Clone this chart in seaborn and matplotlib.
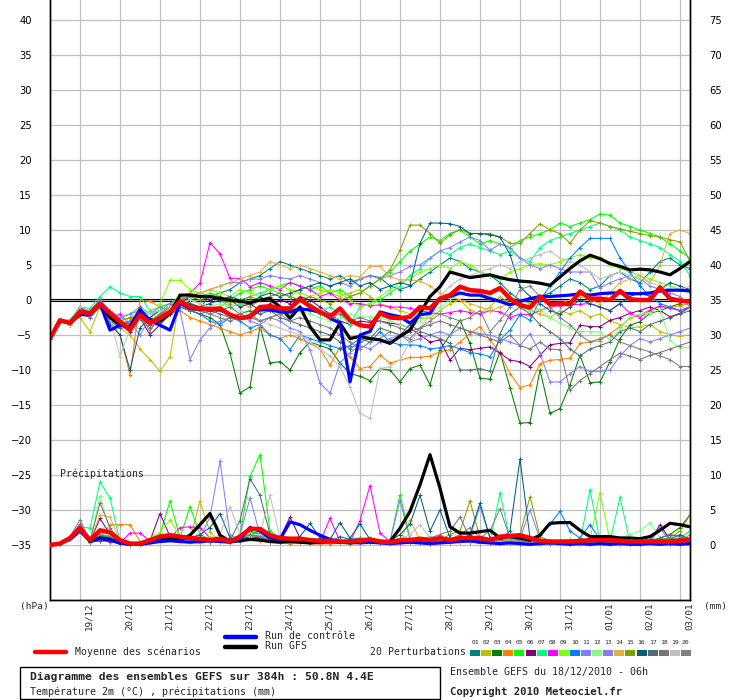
import matplotlib
matplotlib.use("Agg")
import matplotlib.pyplot as plt
from matplotlib.lines import Line2D
from matplotlib.patches import Rectangle
from matplotlib.transforms import ScaledTranslation
import numpy as np
import pandas as pd
import seaborn as sns

# 6-hourly steps from 18/12/2010 06h, 384h -> 65 values per series
date_labels = ["19/12", "20/12", "21/12", "22/12", "23/12", "24/12", "25/12", "26/12",
               "27/12", "28/12", "29/12", "30/12", "31/12", "01/01", "02/01", "03/01"]

member_colors = ["#008080", "#c0c000", "#008000", "#ff8000", "#00ff00", "#800080", "#00ff80",
                 "#ff00ff", "#80ff00", "#0080ff", "#8080ff", "#80ff80", "#8080f0", "#e0b040",
                 "#80a000", "#006080", "#507070", "#807078", "#c0c0c0", "#808080"]

# --- temperature 2m (degC) ---
mean_t = [-5.5, -2.9, -3.3, -1.7, -1.9, -0.5, -1.9, -3.1, -4.3, -2.1, -3.3, -2.6, -1.7,
          -0.2, -1.0, -1.2, -1.3, -1.2, -2.1, -2.6, -2.4, -1.0, -0.9, -1.2, -1.2, 0.1,
          -0.9, -1.7, -2.4, -1.2, -2.9, -3.6, -3.8, -1.9, -2.5, -2.6, -2.4, -1.0, -1.2,
          0.2, 0.7, 1.9, 1.4, 1.3, 1.0, 1.7, 0.2, -0.7, -1.1, 0.5, -0.6, -0.5,
          -0.6, 1.2, 0.2, 0.2, 0.0, 1.3, 0.1, 0.0, 0.0, 1.8, 0.2, -0.1, -0.2]
control_t = [-5.5, -2.9, -3.3, -2.1, -2.1, -0.5, -4.3, -3.6, -3.8, -1.4, -2.9, -3.6, -4.3,
             -0.5, -1.2, -1.3, -1.4, -1.4, -2.1, -2.6, -2.4, -1.4, -1.4, -1.7, -1.7, -1.3,
             -1.4, -1.7, -2.6, -3.3, -11.7, -5.0, -4.5, -1.7, -2.1, -2.4, -3.3, -2.1, -1.9,
             0.2, 0.5, 1.0, 0.7, 0.7, 0.2, -0.2, -0.7, -0.2, 0.2, 0.5, 0.5, 0.6,
             0.7, 0.9, 0.7, 0.9, 1.0, 1.0, 0.9, 0.9, 1.0, 1.3, 1.4, 1.4, 1.3]
gfs_t = [-5.5, -2.9, -3.3, -2.0, -2.0, -0.5, -2.5, -3.5, -4.0, -1.8, -3.0, -3.0, -2.0,
         0.7, 0.7, 0.5, 0.5, 0.2, 0.0, -0.2, -0.4, 0.0, 0.2, -1.0, -2.6, -1.0,
         -3.8, -5.7, -5.7, -3.3, -5.5, -5.2, -5.5, -5.7, -6.2, -5.2, -4.3, -1.9, 0.5,
         1.9, 4.0, 3.6, 3.2, 3.4, 3.6, 3.2, 2.9, 2.7, 2.6, 2.4, 2.1, 3.3,
         4.5, 5.6, 6.4, 5.9, 5.2, 4.8, 4.3, 4.4, 4.3, 4.0, 3.6, 4.5, 5.5]

t01 = [-5.5, -3.0, -3.2, -1.2, -1.8, -0.5, -2.5, -3.5, -4.5, -2.0, -3.5, -2.0, -1.5,
       0.0, -0.5, -1.0, 0.5, 1.0, 1.5, 2.5, 3.0, 3.5, 4.5, 5.5, 5.0, 4.5,
       4.0, 3.5, 3.0, 3.5, 2.5, 3.0, 3.5, 3.2, 2.0, 1.5, 2.0, 3.0, 4.0,
       5.0, 6.0, 5.5, 4.5, 4.0, 3.5, 2.5, 1.0, 0.0, -0.5, 0.5, 1.0, 2.0,
       3.0, 2.5, 1.5, 2.0, 3.5, 4.0, 3.0, 2.5, 4.0, 5.5, 6.0, 5.0, 4.5]
t02 = [-5.5, -3.3, -3.0, -2.5, -4.5, -1.0, -2.5, -4.0, -5.0, -7.0, -8.5, -10.2, -8.1,
       0.5, -0.5, -1.0, -1.5, -1.0, 0.0, -0.5, -1.0, 0.0, 0.5, 1.0, 0.5, 1.5,
       2.0, 1.5, 1.0, 0.5, 1.0, 1.5, 0.5, -0.5, -1.0, -1.5, -2.0, -2.5, -2.6,
       -1.5, -0.5, 0.0, -1.4, -2.0, -1.0, 0.5, -0.5, -1.0, -1.5, -2.0, -2.5, -1.5,
       -2.0, -1.5, -2.4, -2.0, -3.0, -3.5, -4.0, -3.8, -3.5, -4.5, -5.0, -5.2, -5.0]
t03 = [-5.5, -2.8, -3.5, -1.5, -2.0, -0.8, -2.0, -3.0, -3.5, -2.5, -3.0, -2.5, -2.0,
       -1.0, -1.5, -2.0, -2.5, -3.5, -7.6, -13.3, -12.4, -3.8, -9.0, -8.8, -10.0, -7.5,
       -6.0, -6.5, -7.0, -9.0, -10.5, -10.9, -11.5, -9.8, -10.0, -11.7, -9.8, -9.3, -12.1,
       -7.1, -5.0, -2.9, -6.2, -11.2, -11.3, -7.4, -12.5, -17.6, -17.5, -10.0, -16.2, -15.5,
       -12.1, -7.9, -11.8, -11.7, -8.8, -5.5, -3.6, -3.1, -1.9, -1.5, -1.0, -0.5, 0.0]
t04 = [-5.5, -3.0, -3.3, -2.0, -2.2, -0.5, -3.0, -5.0, -10.7, 0.0, -0.2, -1.0, -2.0,
       -1.5, -2.5, -3.0, -3.5, -4.0, -4.5, -5.0, -4.5, -4.0, -5.0, -5.5, -5.0, -5.5,
       -6.2, -7.0, -9.3, -6.7, -8.1, -9.8, -9.5, -7.9, -9.0, -8.6, -8.2, -8.2, -8.0,
       -7.4, -7.1, -6.0, -4.8, -3.8, -5.7, -7.6, -10.5, -12.5, -12.1, -9.1, -8.6, -8.5,
       -8.3, -6.2, -6.0, -5.8, -4.8, -3.8, -2.6, -2.1, -1.4, -1.0, -1.0, -0.8, -0.5]
t05 = [-5.5, -3.0, -3.0, -1.0, -1.5, 0.0, -1.5, -2.5, -2.0, -1.0, -2.0, -1.5, -0.5,
       0.5, 0.0, 0.5, 1.0, 0.5, 0.0, 1.0, 1.5, 2.0, 1.5, 2.0, 2.5, 2.0,
       1.5, 2.0, 1.0, 1.5, 0.5, 1.0, 2.0, 3.0, 4.0, 5.5, 7.0, 8.0, 9.0,
       8.5, 9.5, 10.0, 9.0, 8.0, 8.5, 8.0, 7.5, 8.5, 9.0, 9.5, 10.0, 11.0,
       10.5, 11.0, 11.5, 12.3, 12.1, 11.0, 10.5, 10.0, 9.5, 9.0, 8.0, 7.0, 6.0]
t06 = [-5.5, -3.0, -3.2, -1.8, -2.0, -1.0, -2.0, -3.5, -4.5, -2.5, -5.0, -3.5, -2.0,
       -0.5, 0.5, 0.5, 0.0, 0.5, 0.0, -1.0, -0.5, -1.5, -0.5, 0.0, -0.5, 0.5,
       0.0, -1.0, -2.0, -3.0, -3.5, -3.0, -3.2, -3.0, -3.3, -3.5, -4.0, -5.0, -6.0,
       -5.7, -8.6, -6.9, -7.1, -6.9, -6.7, -7.6, -8.6, -8.8, -9.5, -7.9, -6.4, -6.2,
       -6.1, -3.6, -3.8, -3.8, -2.9, -2.5, -1.9, -1.5, -1.0, -1.5, -2.4, -1.9, -1.0]
t07 = [-5.5, -3.0, -2.8, -1.0, -1.2, 0.5, 1.9, 1.0, 0.5, 0.5, -1.5, -1.0, -0.5,
       0.0, 0.5, 1.0, 0.5, 0.0, -1.0, -0.5, 0.5, 1.0, 1.5, 1.0, 0.5, 0.0,
       -0.5, -1.5, -1.0, -2.0, -3.5, -1.0, -0.5, 0.0, 1.0, 2.0, 3.5, 4.5, 6.0,
       7.0, 6.5, 7.5, 8.0, 7.5, 7.0, 6.5, 7.0, 6.0, 5.5, 7.5, 8.5, 9.0,
       9.5, 10.0, 10.5, 11.0, 10.5, 10.0, 9.0, 8.5, 8.0, 7.5, 6.5, 5.5, 3.5]
t08 = [-5.5, -2.8, -3.0, -1.5, -1.5, -0.5, -2.5, -2.0, -3.5, -1.0, -3.0, -2.0, -1.0,
       0.5, 1.0, 2.4, 8.2, 6.6, 3.1, 3.1, 1.9, 2.5, 2.0, 1.5, 2.5, 2.0,
       1.5, 0.5, 1.0, 0.0, -0.5, -0.5, -0.8, -0.7, -1.0, -1.0, -1.2, -1.5, -1.8,
       -2.0, -1.8, -1.5, -1.8, -2.0, -1.5, -1.7, -2.5, -2.0, -2.1, -1.5, -1.0, -0.8,
       -0.7, -0.6, -0.5, -1.0, -1.5, -0.5, -1.9, -2.5, -1.5, -0.8, -1.2, -1.5, -1.0]
t09 = [-5.5, -3.0, -3.5, -1.5, -2.0, -0.5, -2.0, -3.5, -2.5, -2.0, -3.0, -0.5, 2.8,
       2.8, 1.5, 1.0, 1.5, 1.0, 0.5, 1.5, 1.0, 0.5, 1.5, 2.0, 1.5, 1.0,
       0.5, 1.0, 1.5, 1.0, 0.0, -1.0, -0.5, 0.5, 1.5, 2.5, 3.0, 4.0, 4.5,
       5.0, 4.5, 5.5, 5.0, 4.0, 3.5, 3.0, 4.0, 4.5, 5.0, 5.2, 5.0, 5.5,
       6.0, 6.5, 6.0, 6.1, 5.0, 4.5, 4.0, 3.5, 3.0, 2.5, 2.0, 1.5, 1.0]
t10 = [-5.5, -3.2, -3.3, -2.0, -1.8, -1.0, -3.0, -4.0, -3.0, -2.5, -3.5, -2.5, -2.0,
       -1.0, -1.5, -2.0, -3.0, -3.5, -2.5, -3.0, -4.0, -3.5, -5.0, -5.5, -7.1, -5.0,
       -5.5, -6.0, -6.5, -7.0, -6.5, -5.5, -6.0, -4.5, -6.0, -6.4, -6.4, -6.5, -7.0,
       -6.8, -6.5, -7.0, -7.5, -7.7, -8.1, -5.7, -4.3, -2.1, -2.9, 0.0, 2.0, 4.0,
       6.0, 7.5, 8.8, 8.8, 8.8, 6.0, 4.0, 2.0, 0.5, -0.5, -1.0, -1.5, -1.0]
t11 = [-5.5, -3.0, -3.3, -1.5, -2.5, -1.0, -3.0, -4.0, -3.0, -5.0, -2.5, -3.0, -2.0,
       -1.5, -8.5, -5.7, -4.0, -3.0, -2.5, -2.0, -3.0, -3.5, -2.5, -3.0, -4.0, -4.5,
       -7.1, -11.9, -13.3, -9.0, -7.5, -6.5, -7.0, -6.0, -5.5, -5.0, -6.0, -5.5, -5.0,
       -4.5, -5.0, -4.0, -4.5, -4.8, -5.0, -5.5, -6.0, -6.5, -4.8, -7.6, -11.7, -11.7,
       -10.5, -9.5, -10.2, -10.2, -10.0, -8.0, -6.5, -5.5, -6.0, -5.5, -5.0, -4.5, -4.0]
t12 = [-5.5, -3.0, -3.2, -1.8, -1.5, -0.5, -2.5, -3.0, -2.5, -2.0, -3.0, -2.5, -1.5,
       -0.5, 0.0, -0.5, -1.0, -0.5, -1.0, -1.5, -2.0, -1.5, -1.0, -1.5, -2.0, -1.5,
       -2.0, -2.5, -3.0, -2.5, -2.0, -2.4, -2.4, -2.5, -3.0, -3.5, -4.0, -3.0, -2.0,
       -1.0, 0.0, 1.0, 1.5, 1.0, 0.5, 0.0, -0.5, -1.0, -1.5, -1.4, -2.5, -3.3,
       -4.0, -4.5, -4.5, -4.6, -5.7, -4.0, -2.4, -2.0, -1.8, -1.4, -5.7, -6.9, -6.7]
t13 = [-5.5, -3.0, -3.0, -1.5, -1.5, 0.0, -1.5, -2.5, -2.0, -1.5, -2.0, -1.0, -0.5,
       0.0, 0.5, 1.0, 1.5, 2.0, 2.5, 2.5, 3.0, 3.0, 3.5, 3.2, 3.0, 3.5,
       3.0, 2.5, 2.0, 2.5, 2.0, 3.0, 3.5, 3.0, 3.5, 4.0, 4.8, 5.0, 6.0,
       7.0, 7.5, 8.3, 9.0, 8.5, 7.1, 8.0, 7.5, 6.0, 5.0, 4.5, 5.0, 4.5,
       4.0, 4.0, 4.0, 1.7, 2.5, 3.0, 3.5, 3.0, 2.0, 1.5, 1.0, 0.5, -1.0]
t14 = [-5.5, -3.0, -3.0, -1.5, -2.0, -0.5, -2.0, -3.0, -2.5, -2.0, -2.5, -1.5, -1.0,
       0.5, 1.0, 1.0, 1.5, 2.0, 2.5, 3.0, 3.5, 4.0, 5.5, 5.0, 4.5, 5.0,
       4.5, 4.0, 3.5, 3.0, 3.5, 3.3, 4.8, 4.8, 3.3, 2.9, 2.9, 2.7, 2.0,
       1.0, 0.5, 0.0, -0.5, -1.0, -1.5, -1.0, -0.5, 0.0, -0.5, -1.5, -1.0, -0.5,
       0.0, 0.5, 0.0, -0.5, 1.0, 2.5, 3.0, 3.5, 2.5, 5.0, 9.5, 10.0, 9.5]
t15 = [-5.5, -3.0, -3.3, -1.5, -1.8, -0.5, -2.0, -3.0, -2.5, -2.5, -3.0, -2.0, -1.0,
       0.0, 0.5, 0.0, 0.5, 0.0, -0.5, 0.0, 0.5, 0.0, 0.5, 1.0, 0.5, 0.0,
       0.5, 0.0, -0.5, 0.0, 0.5, 1.0, 2.0, 3.0, 4.3, 7.1, 10.7, 10.7, 9.5,
       8.1, 9.3, 10.1, 9.5, 9.5, 9.5, 9.0, 8.1, 8.1, 9.5, 10.9, 10.0, 9.5,
       8.1, 10.0, 11.3, 11.0, 10.5, 10.2, 9.8, 9.5, 9.2, 9.0, 8.6, 8.3, 5.5]
t16 = [-5.5, -3.0, -3.3, -1.0, -2.0, -1.0, -3.5, -5.0, -10.0, -4.0, -2.5, -1.5, -1.0,
       0.0, -0.5, -1.0, -0.5, 0.0, 0.5, 0.0, -0.5, 0.5, 1.0, 0.5, 1.0, 1.5,
       2.0, 2.5, 2.0, 2.5, 3.0, 2.0, 2.5, 1.5, 2.0, 2.5, 2.1, 8.1, 11.0,
       11.0, 10.9, 10.5, 9.5, 9.5, 9.3, 9.0, 6.5, 1.9, 0.5, -0.5, -1.5, -2.0,
       -1.0, 0.0, -0.5, -1.0, -1.5, -0.5, 0.5, 1.0, 0.5, 1.5, 2.5, 2.0, 1.5]
t17 = [-5.5, -3.0, -3.3, -1.5, -2.0, -1.0, -2.5, -4.0, -3.0, -2.0, -3.5, -2.5, -1.5,
       -1.0, -1.5, -2.0, -1.5, -2.0, -2.5, -2.0, -1.5, -2.0, -1.5, -2.5, -3.0, -3.5,
       -4.0, -4.5, -5.0, -6.0, -7.0, -6.0, -5.5, -4.0, -4.5, -5.0, -3.5, -4.5, -5.0,
       -5.5, -6.2, -10.0, -10.0, -9.8, -10.2, -4.8, -2.0, -1.0, -2.0, -3.5, -4.5, -5.5,
       -7.0, -8.0, -7.0, -6.5, -6.0, -4.5, -4.0, -4.5, -3.5, -3.0, -2.5, -2.0, -1.5]
t18 = [-5.5, -3.0, -3.3, -2.0, -2.5, -1.0, -3.0, -3.5, -3.0, -2.5, -4.0, -3.0, -2.0,
       -1.0, -1.5, -1.5, -2.0, -1.5, -1.0, -2.0, -2.5, -3.0, -2.5, -2.0, -1.5, -1.0,
       -1.5, -2.0, -2.5, -2.0, -3.0, -2.5, -3.0, -3.0, -3.5, -4.0, -4.5, -4.0, -3.5,
       -3.0, -3.5, -4.0, -4.5, -5.0, -5.5, -6.0, -5.0, -6.5, -7.0, -6.0, -7.0, -7.1,
       -12.9, -11.5, -10.5, -9.5, -8.5, -7.6, -8.0, -8.5, -7.9, -7.5, -7.0, -6.5, -6.0]
t19 = [-5.5, -3.0, -3.0, -1.0, -1.5, -0.5, -2.5, -8.1, -4.0, -1.5, -2.0, -1.5, -1.0,
       -0.5, 0.0, -0.5, -1.0, -1.5, -2.0, -2.5, -2.0, -3.0, -3.5, -4.0, -4.5, -5.0,
       -6.0, -7.0, -8.0, -9.5, -12.4, -16.2, -16.9, -9.8, -9.5, -8.5, -6.0, -4.0, -2.0,
       0.5, 2.0, 3.0, 3.5, 4.0, 4.5, 5.0, 4.5, 5.5, 6.0, 6.5, 7.0, 6.0,
       5.5, 5.0, 4.0, 3.0, 3.5, 4.0, 3.5, 3.0, 2.5, 2.0, 1.5, 1.5, 2.0]
t20 = [-5.5, -3.0, -3.3, -1.5, -2.0, -0.5, -1.5, -3.0, -4.0, -2.0, -4.5, -2.0, -1.5,
       -0.5, -1.0, -1.5, -2.0, -2.5, -3.0, -2.5, -2.0, -3.0, -2.5, -2.0, -3.0, -2.5,
       -3.0, -3.5, -4.0, -5.0, -6.0, -7.0, -6.0, -5.5, -4.5, -5.0, -5.5, -4.0, -3.0,
       -2.0, -2.5, -3.0, -2.5, -1.5, -4.5, -2.9, -1.0, 1.5, 2.0, 0.5, -1.0, -2.5,
       -3.5, -5.0, -6.0, -5.5, -5.0, -6.0, -6.5, -7.0, -7.4, -8.0, -8.5, -9.5, -9.5]

# --- 6h precipitation (mm) ---
mean_p = [0, 0.2, 1.0, 2.4, 0.7, 2.1, 1.8, 0.7, 0.2, 0.2, 0.7, 1.2, 1.4,
          1.2, 1.0, 0.9, 0.7, 0.9, 0.5, 1.2, 2.3, 2.3, 1.4, 1.0, 0.9, 0.9,
          0.7, 0.6, 0.6, 0.5, 0.5, 0.6, 0.8, 0.5, 0.4, 0.7, 0.7, 0.9, 0.7,
          1.0, 0.7, 1.0, 1.0, 1.0, 0.7, 1.2, 1.3, 1.4, 1.0, 0.6, 0.5, 0.5,
          0.5, 0.6, 0.7, 0.7, 0.7, 0.6, 0.5, 0.5, 0.5, 0.5, 0.5, 0.6, 0.8]
control_p = [0, 0.2, 0.8, 2.0, 0.6, 0.9, 0.7, 0.3, 0.1, 0.1, 0.3, 0.5, 0.6,
             0.5, 0.4, 0.5, 0.6, 0.5, 0.4, 0.8, 2.5, 2.0, 1.0, 0.8, 3.3, 2.9,
             2.1, 1.4, 0.8, 0.5, 0.4, 0.3, 0.4, 0.3, 0.2, 0.3, 0.4, 0.3, 0.2,
             0.3, 0.4, 0.5, 0.6, 0.4, 0.3, 0.2, 0.3, 0.2, 0.1, 0.2, 0.3, 0.2,
             0.1, 0.2, 0.1, 0.2, 0.1, 0.2, 0.1, 0.1, 0.2, 0.1, 0.2, 0.1, 0.2]
gfs_p = [0, 0.2, 0.9, 2.3, 0.5, 1.0, 0.8, 0.3, 0.1, 0.1, 0.4, 0.8, 0.9,
         0.7, 1.4, 2.9, 4.5, 1.4, 0.5, 0.6, 0.8, 0.7, 0.5, 0.4, 0.5, 0.4,
         0.3, 0.4, 0.5, 0.4, 0.3, 0.4, 0.5, 0.5, 0.5, 2.4, 4.8, 8.6, 12.9,
         8.1, 2.6, 1.7, 1.7, 1.9, 2.1, 1.0, 1.2, 1.0, 0.7, 1.4, 3.1, 3.2,
         3.2, 2.1, 1.2, 1.2, 1.2, 1.0, 1.0, 0.9, 1.2, 2.1, 3.1, 2.9, 2.6]

r01 = [0, 0.2, 1.0, 2.8, 0.5, 1.5, 1.0, 0.4, 0.1, 0.1, 0.5, 1.0, 1.2,
       0.8, 1.0, 0.7, 0.5, 1.0, 0.6, 0.8, 1.5, 2.0, 1.0, 0.8, 0.7, 0.9,
       0.6, 0.4, 0.5, 1.2, 0.8, 1.0, 0.9, 0.6, 0.5, 0.7, 1.0, 0.8, 0.6,
       0.9, 0.5, 0.7, 0.8, 1.0, 0.6, 0.5, 0.8, 1.2, 0.7, 0.5, 0.3, 0.4,
       0.5, 0.8, 0.6, 0.5, 0.7, 0.6, 0.4, 0.3, 0.5, 0.8, 1.0, 0.6, 0.9]
r02 = [0, 0.1, 0.8, 2.2, 0.3, 0.8, 0.5, 0.2, 0.0, 0.0, 0.3, 1.5, 1.0,
       0.6, 0.8, 6.3, 1.8, 0.5, 0.4, 0.6, 1.0, 1.2, 0.5, 0.3, 0.5, 0.4,
       0.3, 0.2, 0.3, 0.5, 0.4, 0.6, 0.5, 0.3, 0.2, 0.4, 0.8, 0.5, 0.3,
       0.5, 1.0, 0.8, 0.6, 0.5, 0.4, 0.6, 0.8, 0.7, 0.5, 0.3, 0.2, 0.3,
       0.2, 0.4, 0.3, 0.2, 0.3, 0.2, 0.1, 0.2, 0.3, 0.5, 0.4, 0.3, 0.5]
r03 = [0, 0.2, 1.0, 2.5, 0.4, 0.6, 0.5, 0.2, 0.0, 0.1, 0.5, 0.8, 1.0,
       0.7, 0.6, 0.5, 0.8, 0.6, 0.4, 1.0, 2.0, 1.5, 0.8, 0.5, 0.6, 0.5,
       0.4, 0.3, 0.4, 0.5, 0.3, 0.4, 0.6, 0.5, 0.3, 0.5, 0.7, 0.4, 0.3,
       0.6, 0.5, 0.4, 0.7, 0.6, 0.5, 0.3, 0.5, 0.4, 0.6, 0.3, 0.2, 0.3,
       0.3, 0.2, 0.4, 0.3, 0.2, 0.3, 0.2, 0.3, 0.5, 1.0, 1.5, 2.5, 4.3]
r04 = [0, 0.2, 0.8, 2.0, 0.5, 1.0, 2.9, 2.9, 2.9, 0.5, 0.3, 0.6, 0.8,
       0.5, 0.4, 0.3, 0.5, 0.4, 0.3, 0.5, 0.8, 0.6, 0.4, 0.3, 0.2, 0.3,
       0.2, 0.1, 0.2, 0.3, 0.2, 0.3, 0.4, 0.3, 0.5, 0.4, 0.6, 0.8, 0.5,
       0.4, 0.3, 0.5, 0.4, 0.3, 0.5, 0.6, 0.4, 0.3, 0.2, 0.3, 0.5, 0.4,
       0.3, 0.5, 0.8, 0.6, 0.4, 0.3, 0.5, 0.6, 0.4, 0.5, 0.7, 0.6, 0.8]
r05 = [0, 0.3, 1.2, 2.6, 0.5, 1.5, 1.2, 0.3, 0.1, 0.2, 0.8, 1.5, 6.3,
       1.0, 5.5, 1.5, 0.8, 1.0, 0.5, 1.5, 9.8, 12.9, 2.0, 1.0, 0.8, 0.6,
       0.5, 0.4, 0.3, 0.6, 0.5, 0.8, 1.0, 0.6, 0.5, 7.2, 1.0, 0.8, 1.2,
       0.8, 0.6, 0.5, 1.0, 0.8, 0.6, 0.5, 0.7, 0.9, 0.5, 0.4, 0.3, 0.5,
       0.4, 0.3, 0.5, 0.6, 0.4, 0.5, 0.3, 0.4, 0.6, 0.8, 0.5, 1.0, 2.0]
r06 = [0, 0.2, 1.0, 2.4, 0.5, 3.8, 1.5, 0.4, 0.1, 0.1, 0.6, 4.5, 1.2,
       0.8, 0.6, 0.5, 0.7, 0.8, 0.5, 1.0, 1.5, 1.2, 0.8, 1.0, 4.0, 1.0,
       0.6, 0.4, 0.5, 0.4, 0.3, 0.5, 0.4, 0.3, 0.5, 0.8, 0.6, 0.4, 0.5,
       0.7, 0.5, 0.4, 0.6, 0.5, 0.8, 0.6, 0.5, 0.7, 0.4, 0.3, 0.5, 0.4,
       0.3, 0.4, 0.6, 0.5, 0.4, 0.3, 0.5, 0.4, 0.6, 2.9, 0.8, 0.5, 1.0]
r07 = [0, 0.3, 1.0, 2.6, 2.4, 9.0, 6.7, 0.5, 0.1, 0.2, 0.5, 1.0, 1.2,
       0.8, 0.6, 0.7, 0.9, 0.5, 0.4, 1.2, 1.8, 1.5, 0.6, 0.5, 0.4, 0.5,
       0.4, 0.3, 0.5, 0.4, 0.3, 0.5, 0.6, 0.4, 0.5, 0.7, 0.6, 0.5, 0.8,
       0.6, 0.9, 0.8, 0.5, 0.7, 0.5, 7.4, 0.8, 0.6, 0.5, 0.4, 0.5, 0.6,
       0.5, 0.4, 7.9, 0.6, 0.5, 6.8, 0.4, 0.3, 0.5, 0.6, 0.5, 0.4, 0.6]
r08 = [0, 0.2, 0.8, 2.2, 0.4, 0.8, 0.6, 0.3, 1.7, 1.7, 0.6, 0.8, 1.0,
       2.5, 2.6, 2.5, 1.0, 0.6, 0.5, 0.8, 1.0, 0.8, 0.5, 0.4, 0.5, 0.4,
       0.5, 0.4, 3.8, 0.5, 0.4, 3.5, 8.5, 1.7, 0.5, 0.3, 0.4, 0.3, 0.2,
       0.4, 0.3, 0.5, 0.4, 0.3, 0.5, 0.4, 0.3, 0.2, 0.3, 0.2, 0.4, 0.3,
       0.2, 0.3, 0.2, 0.4, 0.3, 0.2, 0.3, 0.2, 0.4, 0.3, 0.2, 0.3, 0.4]
r09 = [0, 0.2, 1.2, 2.8, 0.6, 1.8, 1.5, 0.5, 0.2, 0.2, 1.0, 1.8, 3.6,
       1.2, 1.0, 0.8, 1.2, 0.7, 0.5, 1.5, 2.5, 2.0, 1.0, 0.8, 0.6, 0.7,
       0.5, 0.4, 0.6, 0.5, 0.4, 0.6, 0.5, 0.4, 0.6, 1.5, 0.8, 0.6, 0.7,
       0.5, 0.4, 0.6, 0.5, 0.8, 0.6, 0.5, 0.4, 0.5, 0.3, 0.2, 0.3, 0.4,
       0.3, 0.5, 0.8, 7.5, 0.6, 0.4, 0.3, 0.5, 0.4, 0.3, 0.5, 0.4, 0.6]
r10 = [0, 0.2, 1.0, 2.2, 0.5, 1.0, 0.8, 0.3, 0.0, 0.1, 0.4, 0.8, 1.0,
       0.7, 0.6, 0.8, 0.5, 0.6, 0.4, 1.0, 1.5, 1.2, 0.6, 0.5, 0.4, 0.5,
       0.3, 0.2, 0.3, 0.4, 0.3, 0.5, 0.4, 0.3, 0.4, 0.6, 0.5, 0.4, 0.5,
       0.6, 0.5, 0.4, 0.8, 0.6, 0.4, 0.5, 0.6, 0.5, 0.8, 1.5, 3.0, 4.8,
       2.0, 1.0, 2.9, 0.8, 0.5, 0.4, 0.3, 0.2, 0.3, 0.4, 0.3, 0.2, 0.3]
r11 = [0, 0.2, 0.8, 2.4, 0.4, 1.0, 0.8, 0.2, 0.0, 0.1, 0.5, 0.9, 1.1,
       0.8, 0.7, 1.0, 4.0, 12.0, 1.5, 0.6, 1.2, 1.0, 0.5, 0.4, 0.5, 0.6,
       0.4, 0.3, 0.5, 0.4, 0.5, 0.7, 0.6, 0.4, 0.5, 6.4, 0.7, 0.5, 0.6,
       0.5, 0.4, 0.6, 0.8, 0.5, 0.4, 0.6, 0.5, 0.4, 0.3, 0.4, 0.3, 0.2,
       0.3, 0.2, 0.4, 0.3, 0.2, 0.4, 0.3, 0.2, 0.3, 2.5, 0.5, 0.3, 0.4]
r12 = [0, 0.2, 1.0, 2.6, 0.5, 7.0, 2.0, 0.4, 0.1, 0.1, 0.6, 1.0, 1.3,
       0.9, 0.8, 0.6, 0.7, 0.8, 0.5, 1.0, 1.6, 1.4, 0.7, 0.6, 0.5, 0.6,
       0.5, 0.4, 0.5, 0.6, 0.4, 0.5, 0.7, 0.5, 0.4, 0.6, 0.8, 0.5, 0.6,
       0.5, 0.7, 0.6, 0.5, 0.4, 0.6, 0.5, 0.8, 0.6, 0.4, 0.5, 0.3, 0.4,
       0.5, 0.4, 0.5, 0.6, 0.8, 1.0, 1.5, 2.0, 3.2, 1.0, 0.6, 0.5, 0.4]
r13 = [0, 0.2, 0.9, 2.3, 0.5, 1.2, 1.0, 0.3, 0.1, 0.1, 0.5, 0.8, 1.0,
       0.7, 0.6, 0.5, 0.8, 1.0, 0.6, 1.5, 6.7, 1.5, 0.8, 0.6, 0.5, 0.6,
       0.4, 0.3, 0.4, 0.5, 0.4, 0.6, 0.5, 0.4, 0.5, 0.8, 0.6, 0.5, 0.7,
       0.6, 0.8, 1.0, 1.2, 5.5, 1.0, 0.8, 0.6, 0.9, 5.0, 0.8, 0.6, 0.5,
       0.4, 0.3, 0.5, 0.4, 0.3, 0.5, 0.4, 0.6, 0.8, 2.5, 0.6, 0.4, 1.5]
r14 = [0, 0.3, 1.0, 2.5, 0.6, 4.3, 4.0, 0.5, 0.1, 0.2, 0.6, 1.0, 1.2,
       0.8, 0.7, 0.6, 0.8, 0.6, 0.5, 0.9, 1.4, 1.2, 0.7, 0.5, 0.4, 0.5,
       0.3, 0.2, 0.4, 0.3, 0.4, 0.5, 0.4, 0.3, 0.4, 0.6, 3.6, 0.7, 0.5,
       0.6, 0.5, 0.4, 0.6, 0.5, 0.4, 0.6, 0.5, 0.7, 0.4, 0.3, 0.5, 0.6,
       0.8, 0.6, 0.5, 0.4, 0.6, 0.8, 0.5, 0.4, 0.6, 0.8, 0.7, 0.5, 0.6]
r15 = [0, 0.2, 1.0, 2.4, 0.5, 1.0, 0.8, 0.3, 0.1, 0.2, 0.6, 1.0, 1.2,
       0.8, 0.7, 0.6, 0.8, 0.6, 0.5, 0.9, 1.2, 1.0, 0.6, 0.5, 0.4, 0.5,
       0.4, 0.3, 0.5, 0.4, 0.3, 0.5, 0.6, 0.4, 0.5, 0.7, 0.5, 0.6, 0.8,
       0.7, 1.5, 2.0, 6.3, 1.0, 0.8, 0.6, 0.7, 1.5, 6.9, 1.2, 0.6, 0.5,
       0.4, 0.5, 0.3, 0.4, 0.5, 0.3, 0.4, 0.5, 0.6, 0.8, 1.0, 2.0, 4.3]
r16 = [0, 0.2, 1.0, 2.7, 0.5, 1.2, 0.9, 0.3, 0.1, 0.1, 0.5, 1.0, 1.2,
       0.8, 1.0, 1.5, 2.5, 4.5, 1.0, 0.7, 1.2, 1.0, 0.6, 0.5, 0.8, 1.2,
       3.1, 1.0, 0.8, 3.2, 1.0, 3.0, 0.8, 0.5, 0.6, 1.5, 3.0, 7.1, 2.0,
       5.0, 1.0, 0.8, 1.5, 6.0, 1.0, 0.8, 2.0, 12.3, 1.0, 0.6, 0.5, 0.4,
       0.5, 0.4, 0.6, 0.5, 0.8, 1.0, 0.6, 0.5, 0.4, 0.6, 0.8, 1.5, 0.8]
r17 = [0, 0.2, 1.0, 2.5, 0.5, 1.3, 1.0, 0.3, 0.1, 0.1, 0.5, 0.9, 1.1,
       0.7, 0.6, 0.8, 0.7, 0.9, 0.6, 3.5, 9.5, 7.1, 1.5, 0.6, 0.5, 0.6,
       0.4, 0.3, 0.4, 0.5, 0.3, 0.4, 0.5, 0.4, 0.3, 0.5, 0.6, 0.5, 0.4,
       0.5, 0.4, 0.6, 0.5, 0.4, 0.3, 0.5, 0.4, 0.6, 0.5, 0.4, 0.3, 0.5,
       0.4, 0.3, 0.5, 0.6, 0.4, 0.3, 0.5, 0.4, 0.6, 1.0, 1.5, 1.2, 0.8]
r18 = [0, 0.2, 1.2, 3.0, 0.6, 6.0, 2.5, 0.4, 0.1, 0.2, 0.6, 1.5, 1.3,
       0.9, 0.7, 0.6, 0.8, 0.7, 0.5, 1.0, 1.4, 1.2, 0.6, 0.5, 0.6, 0.8,
       0.5, 0.4, 0.6, 0.5, 0.4, 0.5, 0.6, 0.4, 0.5, 0.6, 0.8, 0.7, 1.0,
       1.5, 2.0, 4.0, 1.0, 0.8, 0.6, 0.7, 0.5, 0.6, 0.4, 0.3, 0.4, 0.5,
       0.4, 0.3, 0.5, 0.4, 0.3, 0.5, 0.4, 0.3, 0.5, 0.4, 0.6, 0.5, 0.4]
r19 = [0, 0.2, 0.9, 2.3, 0.4, 1.0, 0.8, 0.3, 0.1, 0.1, 0.4, 0.8, 1.0,
       0.7, 0.6, 0.5, 0.8, 1.5, 5.5, 1.5, 1.2, 1.5, 7.1, 1.0, 0.6, 0.5,
       0.4, 0.3, 0.4, 0.5, 0.4, 0.6, 0.5, 0.4, 0.5, 0.8, 1.5, 2.9, 1.0,
       0.6, 0.5, 0.4, 0.6, 0.5, 0.4, 0.5, 0.6, 0.4, 0.3, 0.4, 0.3, 0.2,
       0.3, 0.2, 0.4, 0.3, 0.2, 0.3, 0.4, 0.3, 0.2, 0.3, 0.4, 0.3, 0.5]
r20 = [0, 0.3, 1.2, 3.6, 0.6, 1.5, 1.2, 0.4, 0.1, 0.2, 0.6, 1.2, 1.4,
       0.9, 0.8, 0.6, 0.9, 0.7, 0.5, 1.0, 1.5, 1.2, 0.7, 0.6, 0.5, 0.6,
       0.4, 0.3, 0.5, 0.4, 0.3, 0.5, 0.6, 0.4, 0.5, 0.7, 0.6, 0.5, 0.8,
       0.6, 0.8, 1.5, 2.5, 1.0, 2.0, 5.2, 1.0, 0.8, 0.6, 0.5, 0.4, 0.5,
       0.4, 0.3, 0.5, 0.4, 0.6, 0.5, 0.4, 0.3, 0.5, 0.6, 0.8, 1.0, 0.7]

member_temps = [t01, t02, t03, t04, t05, t06, t07, t08, t09, t10,
                t11, t12, t13, t14, t15, t16, t17, t18, t19, t20]
member_precs = [r01, r02, r03, r04, r05, r06, r07, r08, r09, r10,
                r11, r12, r13, r14, r15, r16, r17, r18, r19, r20]


def px(x, y):
    # pixel position (from top-left) -> figure fraction
    return x / 740, 1 - y / 700


def solid_markers(ax):
    # seaborn gives markers a white edge; the original draws them in the line colour
    for line in ax.lines:
        line.set_markeredgecolor(line.get_color())


def main() -> None:
    n = len(mean_t)
    steps = np.arange(n)
    rows = []
    for k, (temp, prec) in enumerate(zip(member_temps, member_precs)):
        name = f"{k + 1:02d}"
        for i in range(n):
            rows.append({"member": name, "step": i, "temp": temp[i], "prec": prec[i]})
    members = pd.DataFrame(rows)
    palette = {f"{k + 1:02d}": c for k, c in enumerate(member_colors)}

    sns.set_theme(style="white")
    plt.rcParams["font.family"] = ["DejaVu Sans"]
    mono = "DejaVu Sans Mono"

    fig = plt.figure(figsize=(7.4, 7.0), dpi=100)
    ax = fig.add_axes([50 / 740, 100 / 700, 640 / 740, 600 / 700])
    ax2 = ax.twinx()

    ax.set_xlim(0, n - 1)
    ax.set_ylim(-300 / 7, 300 / 7)
    ax2.set_ylim(-300 / 7 + 35, 300 / 7 + 35)

    grid_kw = dict(color="#c0c0c0", lw=0.9, zorder=0)
    for v in range(-35, 41, 5):
        ax.axhline(v, **grid_kw)
    day_steps = list(range(3, n, 4))
    for s in day_steps:
        ax.axvline(s, **grid_kw)
    for off in (0.15, -0.15):
        ax.axhline(off, color="black", lw=0.8, zorder=1)

    line_kw = dict(marker="+", markersize=3.5, markeredgewidth=0.7, linewidth=0.75,
                   estimator=None, errorbar=None, legend=False)
    sns.lineplot(data=members, x="step", y="temp", hue="member", palette=palette,
                 ax=ax, zorder=2, **line_kw)
    sns.lineplot(data=members, x="step", y="prec", hue="member", palette=palette,
                 ax=ax2, zorder=2, **line_kw)
    solid_markers(ax)
    solid_markers(ax2)

    for temp, prec, color, lw in [(gfs_t, gfs_p, "black", 2.3),
                                  (control_t, control_p, "#0000ff", 2.3),
                                  (mean_t, mean_p, "#ff0000", 3.2)]:
        sns.lineplot(x=steps, y=temp, color=color, lw=lw, ax=ax, zorder=3)
        sns.lineplot(x=steps, y=prec, color=color, lw=lw, ax=ax2, zorder=3)

    ax.set_xlabel("")
    ax.set_ylabel("")
    ax2.set_ylabel("")
    ax.set_yticks(range(-35, 41, 5))
    ax2.set_yticks(range(0, 76, 5))
    ax.tick_params(axis="y", length=0, pad=13, labelsize=7.2, colors="black")
    ax2.tick_params(axis="y", length=0, pad=14, labelsize=7.2, colors="black")
    ax.set_xticks(day_steps)
    ax.set_xticklabels(date_labels, rotation=90, family=mono, fontsize=6.6, va="top")
    ax.tick_params(axis="x", length=0, pad=2)
    shift = ScaledTranslation(9 / 100, 0, fig.dpi_scale_trans)
    for lab in ax.get_xticklabels():
        lab.set_transform(lab.get_transform() + shift)

    for a in (ax, ax2):
        a.grid(False)
        for side, sp in a.spines.items():
            sp.set_visible(side in ("left", "right", "bottom"))
            sp.set_color("black")
            sp.set_linewidth(1.0)

    fig.text(*px(60, 474), "Précipitations", family=mono, fontsize=7.1, va="center")

    # legend / captions under the chart
    fig.text(*px(20, 607), "(hPa)", family=mono, fontsize=6.8, va="center")
    fig.text(*px(704, 607), "(mm)", family=mono, fontsize=6.8, va="center")

    def leg_line(x0, x1, y, color, lw):
        (a0, b0), (a1, _) = px(x0, y), px(x1, y)
        fig.add_artist(Line2D([a0, a1], [b0, b0], color=color, lw=lw))

    leg_line(225, 256, 637, "#0000ff", 3.2)
    leg_line(225, 256, 647, "black", 3.2)
    leg_line(35, 66, 652, "#ff0000", 3.2)
    fig.text(*px(265, 636), "Run de contrôle", family=mono, fontsize=7.1, va="center")
    fig.text(*px(265, 646), "Run GFS", family=mono, fontsize=7.1, va="center")
    fig.text(*px(75, 652), "Moyenne des scénarios", family=mono, fontsize=7.1, va="center")
    fig.text(*px(370, 652), "20 Perturbations", family=mono, fontsize=7.1, va="center")

    sw = 11.1
    for k, c in enumerate(member_colors):
        x0 = 470 + k * sw
        a, b = px(x0, 656)
        fig.add_artist(Rectangle((a, b), 10 / 740, 6 / 700, transform=fig.transFigure,
                                 facecolor=c, edgecolor="none"))
        fig.text(*px(x0 + 5, 643), f"{k + 1:02d}", family=mono, fontsize=4.6,
                 ha="center", va="center")

    a, b = px(20, 699)
    fig.add_artist(Rectangle((a, b), 420 / 740, 32 / 700, transform=fig.transFigure,
                             facecolor="none", edgecolor="black", lw=1.0))
    fig.text(*px(30, 677), "Diagramme des ensembles GEFS sur 384h : 50.8N 4.4E",
             family=mono, fontsize=8.2, fontweight="bold", va="center")
    fig.text(*px(30, 692), "Température 2m (°C) , précipitations (mm)",
             family=mono, fontsize=7.2, va="center")
    fig.text(*px(450, 672), "Ensemble GEFS du 18/12/2010 - 06h",
             family=mono, fontsize=7.2, va="center")
    fig.text(*px(450, 692), "Copyright 2010 Meteociel.fr",
             family=mono, fontsize=7.7, fontweight="bold", va="center")

    fig.savefig("out.png", dpi=100, facecolor="white")
    plt.close(fig)


if __name__ == "__main__":
    main()
